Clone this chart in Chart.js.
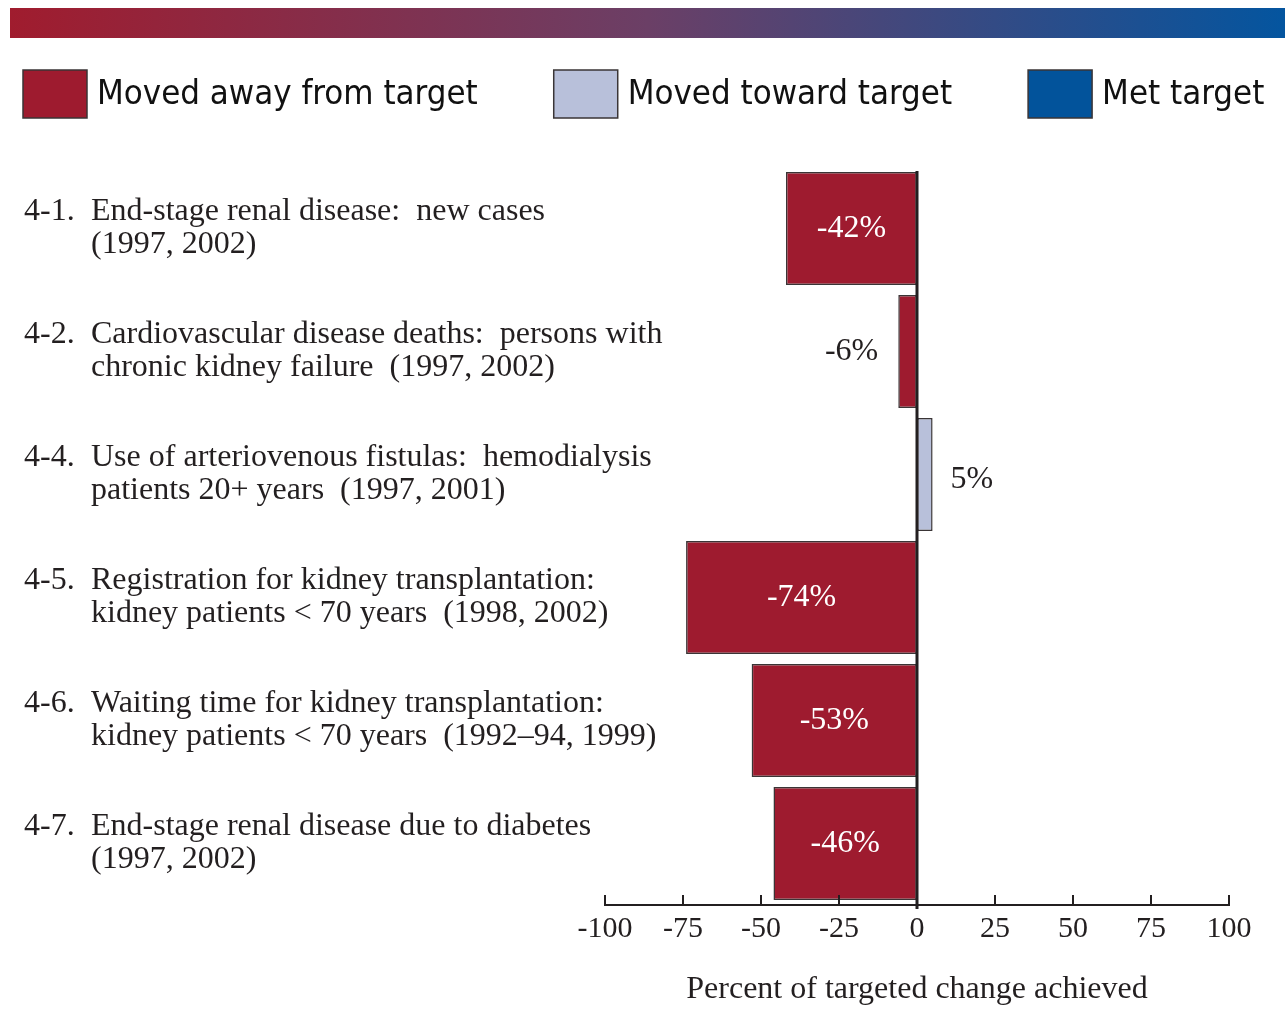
<!DOCTYPE html>
<html>
<head>
<meta charset="utf-8">
<script src="https://cdn.jsdelivr.net/npm/chart.js@4.4.1/dist/chart.umd.min.js"></script>
<style>
  html, body { margin: 0; padding: 0; background: #fff; }
  #wrap { width: 1285px; height: 1009px; position: relative; }
</style>
</head>
<body>
<div id="wrap"><canvas id="objChart"></canvas></div>
<script>
const codes = ["4-1.", "4-2.", "4-4.", "4-5.", "4-6.", "4-7."];
const labelLines = [
  ["End-stage renal disease:  new cases", "(1997, 2002)"],
  ["Cardiovascular disease deaths:  persons with", "chronic kidney failure  (1997, 2002)"],
  ["Use of arteriovenous fistulas:  hemodialysis", "patients 20+ years  (1997, 2001)"],
  ["Registration for kidney transplantation:", "kidney patients < 70 years  (1998, 2002)"],
  ["Waiting time for kidney transplantation:", "kidney patients < 70 years  (1992\u201394, 1999)"],
  ["End-stage renal disease due to diabetes", "(1997, 2002)"],
];
const movedAway = [-42, -6, null, -74, -53, -46];
const movedToward = [null, null, 5, null, null, null];
const metTarget = [null, null, null, null, null, null];
const xTicks = [-100, -75, -50, -25, 0, 25, 50, 75, 100];

const RED = "#9e1b2f";
const LIGHT = "#b8c0da";
const BLUE = "#02539b";
const SERIF = "'Liberation Serif', 'Times New Roman', serif";
const SANS_NARROW = "'Liberation Sans Narrow', 'DejaVu Sans Condensed', sans-serif";

// gradient band, one-row legend and left category labels
const decorPlugin = {
  id: "decor",
  beforeDraw(chart) {
    const ctx = chart.ctx;
    const g = ctx.createLinearGradient(10, 0, 1285, 0);
    g.addColorStop(0, "#a01c2e");
    g.addColorStop(0.5, "#6b3f66");
    g.addColorStop(1, "#04559f");
    ctx.save();
    ctx.fillStyle = g;
    ctx.fillRect(10, 8, 1275, 30);

    // legend
    ctx.font = "34.5px " + SANS_NARROW;
    ctx.textBaseline = "middle";
    ctx.textAlign = "left";
    let x = 23;
    chart.data.datasets.forEach((ds) => {
      ctx.fillStyle = ds.backgroundColor;
      ctx.fillRect(x, 70, 64, 48);
      ctx.strokeStyle = "#3a3536";
      ctx.lineWidth = 1.5;
      ctx.strokeRect(x, 70, 64, 48);
      ctx.fillStyle = "#111";
      ctx.fillText(ds.label, x + 74, 95);
      x += 74 + ctx.measureText(ds.label).width + 76;
    });
    ctx.restore();
  },
  afterDraw(chart) {
    const ctx = chart.ctx;
    const y = chart.scales.y;
    ctx.save();
    ctx.fillStyle = "#231f20";
    ctx.font = "32px " + SERIF;
    ctx.textBaseline = "middle";
    ctx.textAlign = "left";
    codes.forEach((c, i) => {
      const cy = y.getPixelForValue(i);
      ctx.fillText(c, 24, cy - 17);
      ctx.fillText(labelLines[i][0], 91, cy - 17);
      ctx.fillText(labelLines[i][1], 91, cy + 16);
    });
    ctx.restore();
  },
};

// zero line, inward tick marks and value labels
const axisPlugin = {
  id: "axisMarks",
  afterDatasetsDraw(chart) {
    const ctx = chart.ctx;
    const x = chart.scales.x;
    const area = chart.chartArea;
    ctx.save();
    ctx.strokeStyle = "#231f20";
    ctx.lineWidth = 2;
    xTicks.forEach((t) => {
      const px = Math.round(x.getPixelForValue(t));
      ctx.beginPath();
      ctx.moveTo(px, area.bottom - 10);
      ctx.lineTo(px, area.bottom);
      ctx.stroke();
    });
    const zx = x.getPixelForValue(0);
    ctx.lineWidth = 3;
    ctx.beginPath();
    ctx.moveTo(zx, area.top + 4);
    ctx.lineTo(zx, area.bottom + 4);
    ctx.stroke();

    ctx.font = "32px " + SERIF;
    ctx.textBaseline = "middle";
    chart.data.datasets.forEach((ds, di) => {
      const meta = chart.getDatasetMeta(di);
      meta.data.forEach((bar, i) => {
        const v = ds.data[i];
        if (v === null || v === undefined) return;
        const txt = v + "%";
        if (Math.abs(v) >= 15) {
          ctx.fillStyle = "#ffffff";
          ctx.textAlign = "center";
          ctx.fillText(txt, (bar.x + bar.base) / 2, bar.y);
        } else if (v < 0) {
          ctx.fillStyle = "#231f20";
          ctx.textAlign = "right";
          ctx.fillText(txt, bar.x - 20, bar.y);
        } else {
          ctx.fillStyle = "#231f20";
          ctx.textAlign = "left";
          ctx.fillText(txt, bar.x + 18, bar.y + 5);
        }
      });
    });
    ctx.restore();
  },
};

const ctx = document.getElementById("objChart").getContext("2d");
new Chart(ctx, {
  type: "bar",
  data: {
    labels: codes,
    datasets: [
      { label: "Moved away from target", data: movedAway, backgroundColor: RED },
      { label: "Moved toward target", data: movedToward, backgroundColor: LIGHT },
      { label: "Met target", data: metTarget, backgroundColor: BLUE },
    ].map((d) => Object.assign(d, {
      borderColor: "#3a3536",
      borderWidth: 1.5,
      borderSkipped: false,
      barPercentage: 0.92,
      categoryPercentage: 1,
    })),
  },
  options: {
    indexAxis: "y",
    responsive: true,
    maintainAspectRatio: false,
    animation: false,
    layout: { padding: { left: 0, right: 0, top: 167, bottom: 0 } },
    plugins: {
      legend: { display: false },
      tooltip: { enabled: false },
    },
    scales: {
      y: {
        stacked: true,
        position: "left",
        grid: { display: false },
        border: { display: false },
        ticks: { display: false },
        afterFit: (scale) => { scale.width = 605; },
      },
      yRight: {
        type: "category",
        position: "right",
        grid: { display: false },
        border: { display: false },
        ticks: { display: false },
        afterFit: (scale) => { scale.width = 56; },
      },
      x: {
        stacked: true,
        min: -100,
        max: 100,
        afterBuildTicks: (scale) => {
          scale.ticks = xTicks.map((v) => ({ value: v }));
        },
        grid: { display: false, drawTicks: false },
        border: { display: true, color: "#231f20", width: 2 },
        ticks: {
          color: "#231f20",
          padding: 6,
          maxRotation: 0,
          font: { family: SERIF, size: 30 },
        },
        title: {
          display: true,
          text: "Percent of targeted change achieved",
          color: "#231f20",
          font: { family: SERIF, size: 32 },
          padding: { top: 14, bottom: 0 },
        },
        afterFit: (scale) => { scale.height = 104; },
      },
    },
  },
  plugins: [decorPlugin, axisPlugin],
});
</script>
</body>
</html>
